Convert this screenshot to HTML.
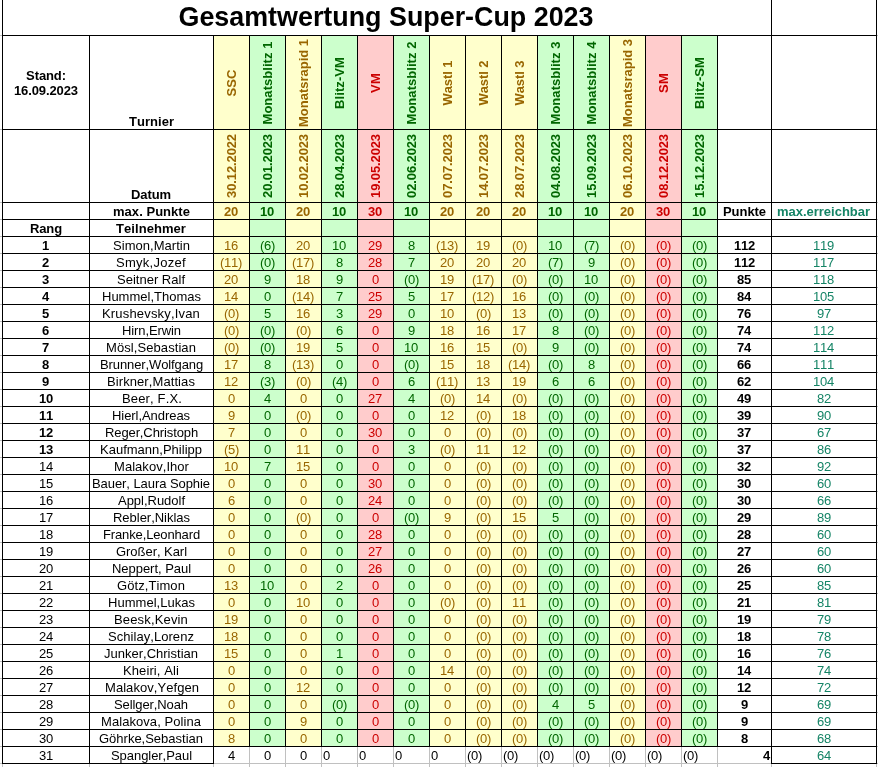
<!DOCTYPE html>
<html lang="de"><head><meta charset="utf-8"><title>Gesamtwertung Super-Cup 2023</title><style>
html,body{margin:0;padding:0;background:#fff}
body{width:878px;height:767px;position:relative;overflow:hidden;font-family:"Liberation Sans",sans-serif;font-size:13px;color:#000;font-kerning:none}
.r{position:absolute}
.t{position:absolute;text-align:left;white-space:nowrap}
.c{text-align:center}
.l{text-align:left}
.rt{text-align:right}
.b{font-weight:bold}
.v{position:absolute;white-space:nowrap;line-height:16px;height:16px;transform:translate(-50%,-50%) rotate(-90deg);transform-origin:50% 50%}
</style></head>
<body>
<div class="r" style="left:214px;top:36px;width:35px;height:710px;background:#ffffcc"></div>
<div class="r" style="left:250px;top:36px;width:35px;height:710px;background:#ccffcc"></div>
<div class="r" style="left:286px;top:36px;width:35px;height:710px;background:#ffffcc"></div>
<div class="r" style="left:322px;top:36px;width:35px;height:710px;background:#ccffcc"></div>
<div class="r" style="left:358px;top:36px;width:35px;height:710px;background:#ffcccc"></div>
<div class="r" style="left:394px;top:36px;width:35px;height:710px;background:#ccffcc"></div>
<div class="r" style="left:430px;top:36px;width:35px;height:710px;background:#ffffcc"></div>
<div class="r" style="left:466px;top:36px;width:35px;height:710px;background:#ffffcc"></div>
<div class="r" style="left:502px;top:36px;width:35px;height:710px;background:#ffffcc"></div>
<div class="r" style="left:538px;top:36px;width:35px;height:710px;background:#ccffcc"></div>
<div class="r" style="left:574px;top:36px;width:35px;height:710px;background:#ccffcc"></div>
<div class="r" style="left:610px;top:36px;width:35px;height:710px;background:#ffffcc"></div>
<div class="r" style="left:646px;top:36px;width:35px;height:710px;background:#ffcccc"></div>
<div class="r" style="left:682px;top:36px;width:35px;height:710px;background:#ccffcc"></div>
<div class="r" style="left:0px;top:35px;width:2px;height:1px;background:#c0c0c0"></div>
<div class="r" style="left:877px;top:35px;width:1px;height:1px;background:#c0c0c0"></div>
<div class="r" style="left:0px;top:129px;width:2px;height:1px;background:#c0c0c0"></div>
<div class="r" style="left:877px;top:129px;width:1px;height:1px;background:#c0c0c0"></div>
<div class="r" style="left:0px;top:202px;width:2px;height:1px;background:#c0c0c0"></div>
<div class="r" style="left:877px;top:202px;width:1px;height:1px;background:#c0c0c0"></div>
<div class="r" style="left:0px;top:219px;width:2px;height:1px;background:#c0c0c0"></div>
<div class="r" style="left:877px;top:219px;width:1px;height:1px;background:#c0c0c0"></div>
<div class="r" style="left:0px;top:236px;width:2px;height:1px;background:#c0c0c0"></div>
<div class="r" style="left:877px;top:236px;width:1px;height:1px;background:#c0c0c0"></div>
<div class="r" style="left:0px;top:253px;width:2px;height:1px;background:#c0c0c0"></div>
<div class="r" style="left:877px;top:253px;width:1px;height:1px;background:#c0c0c0"></div>
<div class="r" style="left:0px;top:270px;width:2px;height:1px;background:#c0c0c0"></div>
<div class="r" style="left:877px;top:270px;width:1px;height:1px;background:#c0c0c0"></div>
<div class="r" style="left:0px;top:287px;width:2px;height:1px;background:#c0c0c0"></div>
<div class="r" style="left:877px;top:287px;width:1px;height:1px;background:#c0c0c0"></div>
<div class="r" style="left:0px;top:304px;width:2px;height:1px;background:#c0c0c0"></div>
<div class="r" style="left:877px;top:304px;width:1px;height:1px;background:#c0c0c0"></div>
<div class="r" style="left:0px;top:321px;width:2px;height:1px;background:#c0c0c0"></div>
<div class="r" style="left:877px;top:321px;width:1px;height:1px;background:#c0c0c0"></div>
<div class="r" style="left:0px;top:338px;width:2px;height:1px;background:#c0c0c0"></div>
<div class="r" style="left:877px;top:338px;width:1px;height:1px;background:#c0c0c0"></div>
<div class="r" style="left:0px;top:355px;width:2px;height:1px;background:#c0c0c0"></div>
<div class="r" style="left:877px;top:355px;width:1px;height:1px;background:#c0c0c0"></div>
<div class="r" style="left:0px;top:372px;width:2px;height:1px;background:#c0c0c0"></div>
<div class="r" style="left:877px;top:372px;width:1px;height:1px;background:#c0c0c0"></div>
<div class="r" style="left:0px;top:389px;width:2px;height:1px;background:#c0c0c0"></div>
<div class="r" style="left:877px;top:389px;width:1px;height:1px;background:#c0c0c0"></div>
<div class="r" style="left:0px;top:406px;width:2px;height:1px;background:#c0c0c0"></div>
<div class="r" style="left:877px;top:406px;width:1px;height:1px;background:#c0c0c0"></div>
<div class="r" style="left:0px;top:423px;width:2px;height:1px;background:#c0c0c0"></div>
<div class="r" style="left:877px;top:423px;width:1px;height:1px;background:#c0c0c0"></div>
<div class="r" style="left:0px;top:440px;width:2px;height:1px;background:#c0c0c0"></div>
<div class="r" style="left:877px;top:440px;width:1px;height:1px;background:#c0c0c0"></div>
<div class="r" style="left:0px;top:457px;width:2px;height:1px;background:#c0c0c0"></div>
<div class="r" style="left:877px;top:457px;width:1px;height:1px;background:#c0c0c0"></div>
<div class="r" style="left:0px;top:474px;width:2px;height:1px;background:#c0c0c0"></div>
<div class="r" style="left:877px;top:474px;width:1px;height:1px;background:#c0c0c0"></div>
<div class="r" style="left:0px;top:491px;width:2px;height:1px;background:#c0c0c0"></div>
<div class="r" style="left:877px;top:491px;width:1px;height:1px;background:#c0c0c0"></div>
<div class="r" style="left:0px;top:508px;width:2px;height:1px;background:#c0c0c0"></div>
<div class="r" style="left:877px;top:508px;width:1px;height:1px;background:#c0c0c0"></div>
<div class="r" style="left:0px;top:525px;width:2px;height:1px;background:#c0c0c0"></div>
<div class="r" style="left:877px;top:525px;width:1px;height:1px;background:#c0c0c0"></div>
<div class="r" style="left:0px;top:542px;width:2px;height:1px;background:#c0c0c0"></div>
<div class="r" style="left:877px;top:542px;width:1px;height:1px;background:#c0c0c0"></div>
<div class="r" style="left:0px;top:559px;width:2px;height:1px;background:#c0c0c0"></div>
<div class="r" style="left:877px;top:559px;width:1px;height:1px;background:#c0c0c0"></div>
<div class="r" style="left:0px;top:576px;width:2px;height:1px;background:#c0c0c0"></div>
<div class="r" style="left:877px;top:576px;width:1px;height:1px;background:#c0c0c0"></div>
<div class="r" style="left:0px;top:593px;width:2px;height:1px;background:#c0c0c0"></div>
<div class="r" style="left:877px;top:593px;width:1px;height:1px;background:#c0c0c0"></div>
<div class="r" style="left:0px;top:610px;width:2px;height:1px;background:#c0c0c0"></div>
<div class="r" style="left:877px;top:610px;width:1px;height:1px;background:#c0c0c0"></div>
<div class="r" style="left:0px;top:627px;width:2px;height:1px;background:#c0c0c0"></div>
<div class="r" style="left:877px;top:627px;width:1px;height:1px;background:#c0c0c0"></div>
<div class="r" style="left:0px;top:644px;width:2px;height:1px;background:#c0c0c0"></div>
<div class="r" style="left:877px;top:644px;width:1px;height:1px;background:#c0c0c0"></div>
<div class="r" style="left:0px;top:661px;width:2px;height:1px;background:#c0c0c0"></div>
<div class="r" style="left:877px;top:661px;width:1px;height:1px;background:#c0c0c0"></div>
<div class="r" style="left:0px;top:678px;width:2px;height:1px;background:#c0c0c0"></div>
<div class="r" style="left:877px;top:678px;width:1px;height:1px;background:#c0c0c0"></div>
<div class="r" style="left:0px;top:695px;width:2px;height:1px;background:#c0c0c0"></div>
<div class="r" style="left:877px;top:695px;width:1px;height:1px;background:#c0c0c0"></div>
<div class="r" style="left:0px;top:712px;width:2px;height:1px;background:#c0c0c0"></div>
<div class="r" style="left:877px;top:712px;width:1px;height:1px;background:#c0c0c0"></div>
<div class="r" style="left:0px;top:729px;width:2px;height:1px;background:#c0c0c0"></div>
<div class="r" style="left:877px;top:729px;width:1px;height:1px;background:#c0c0c0"></div>
<div class="r" style="left:0px;top:746px;width:2px;height:1px;background:#c0c0c0"></div>
<div class="r" style="left:877px;top:746px;width:1px;height:1px;background:#c0c0c0"></div>
<div class="r" style="left:0px;top:763px;width:2px;height:1px;background:#c0c0c0"></div>
<div class="r" style="left:877px;top:763px;width:1px;height:1px;background:#c0c0c0"></div>
<div class="r" style="left:249px;top:747px;width:1px;height:20px;background:#c0c0c0"></div>
<div class="r" style="left:285px;top:747px;width:1px;height:20px;background:#c0c0c0"></div>
<div class="r" style="left:321px;top:747px;width:1px;height:20px;background:#c0c0c0"></div>
<div class="r" style="left:357px;top:747px;width:1px;height:20px;background:#c0c0c0"></div>
<div class="r" style="left:393px;top:747px;width:1px;height:20px;background:#c0c0c0"></div>
<div class="r" style="left:429px;top:747px;width:1px;height:20px;background:#c0c0c0"></div>
<div class="r" style="left:465px;top:747px;width:1px;height:20px;background:#c0c0c0"></div>
<div class="r" style="left:501px;top:747px;width:1px;height:20px;background:#c0c0c0"></div>
<div class="r" style="left:537px;top:747px;width:1px;height:20px;background:#c0c0c0"></div>
<div class="r" style="left:573px;top:747px;width:1px;height:20px;background:#c0c0c0"></div>
<div class="r" style="left:609px;top:747px;width:1px;height:20px;background:#c0c0c0"></div>
<div class="r" style="left:645px;top:747px;width:1px;height:20px;background:#c0c0c0"></div>
<div class="r" style="left:681px;top:747px;width:1px;height:20px;background:#c0c0c0"></div>
<div class="r" style="left:717px;top:747px;width:1px;height:20px;background:#c0c0c0"></div>
<div class="r" style="left:214px;top:763px;width:557px;height:1px;background:#c0c0c0"></div>
<div class="r" style="left:2px;top:764px;width:1px;height:3px;background:#c0c0c0"></div>
<div class="r" style="left:89px;top:764px;width:1px;height:3px;background:#c0c0c0"></div>
<div class="r" style="left:213px;top:764px;width:1px;height:3px;background:#c0c0c0"></div>
<div class="r" style="left:771px;top:764px;width:1px;height:3px;background:#c0c0c0"></div>
<div class="r" style="left:876px;top:764px;width:1px;height:3px;background:#c0c0c0"></div>
<div class="r" style="left:2px;top:0px;width:1px;height:764px;background:#000"></div>
<div class="r" style="left:89px;top:35px;width:1px;height:729px;background:#000"></div>
<div class="r" style="left:213px;top:35px;width:1px;height:729px;background:#000"></div>
<div class="r" style="left:249px;top:35px;width:1px;height:712px;background:#000"></div>
<div class="r" style="left:285px;top:35px;width:1px;height:712px;background:#000"></div>
<div class="r" style="left:321px;top:35px;width:1px;height:712px;background:#000"></div>
<div class="r" style="left:357px;top:35px;width:1px;height:712px;background:#000"></div>
<div class="r" style="left:393px;top:35px;width:1px;height:712px;background:#000"></div>
<div class="r" style="left:429px;top:35px;width:1px;height:712px;background:#000"></div>
<div class="r" style="left:465px;top:35px;width:1px;height:712px;background:#000"></div>
<div class="r" style="left:501px;top:35px;width:1px;height:712px;background:#000"></div>
<div class="r" style="left:537px;top:35px;width:1px;height:712px;background:#000"></div>
<div class="r" style="left:573px;top:35px;width:1px;height:712px;background:#000"></div>
<div class="r" style="left:609px;top:35px;width:1px;height:712px;background:#000"></div>
<div class="r" style="left:645px;top:35px;width:1px;height:712px;background:#000"></div>
<div class="r" style="left:681px;top:35px;width:1px;height:712px;background:#000"></div>
<div class="r" style="left:717px;top:35px;width:1px;height:712px;background:#000"></div>
<div class="r" style="left:771px;top:0px;width:1px;height:764px;background:#000"></div>
<div class="r" style="left:876px;top:0px;width:1px;height:764px;background:#000"></div>
<div class="r" style="left:2px;top:35px;width:875px;height:1px;background:#000"></div>
<div class="r" style="left:2px;top:129px;width:875px;height:1px;background:#000"></div>
<div class="r" style="left:2px;top:202px;width:875px;height:1px;background:#000"></div>
<div class="r" style="left:2px;top:219px;width:875px;height:1px;background:#000"></div>
<div class="r" style="left:2px;top:236px;width:875px;height:1px;background:#000"></div>
<div class="r" style="left:2px;top:253px;width:875px;height:1px;background:#000"></div>
<div class="r" style="left:2px;top:270px;width:875px;height:1px;background:#000"></div>
<div class="r" style="left:2px;top:287px;width:875px;height:1px;background:#000"></div>
<div class="r" style="left:2px;top:304px;width:875px;height:1px;background:#000"></div>
<div class="r" style="left:2px;top:321px;width:875px;height:1px;background:#000"></div>
<div class="r" style="left:2px;top:338px;width:875px;height:1px;background:#000"></div>
<div class="r" style="left:2px;top:355px;width:875px;height:1px;background:#000"></div>
<div class="r" style="left:2px;top:372px;width:875px;height:1px;background:#000"></div>
<div class="r" style="left:2px;top:389px;width:875px;height:1px;background:#000"></div>
<div class="r" style="left:2px;top:406px;width:875px;height:1px;background:#000"></div>
<div class="r" style="left:2px;top:423px;width:875px;height:1px;background:#000"></div>
<div class="r" style="left:2px;top:440px;width:875px;height:1px;background:#000"></div>
<div class="r" style="left:2px;top:457px;width:875px;height:1px;background:#000"></div>
<div class="r" style="left:2px;top:474px;width:875px;height:1px;background:#000"></div>
<div class="r" style="left:2px;top:491px;width:875px;height:1px;background:#000"></div>
<div class="r" style="left:2px;top:508px;width:875px;height:1px;background:#000"></div>
<div class="r" style="left:2px;top:525px;width:875px;height:1px;background:#000"></div>
<div class="r" style="left:2px;top:542px;width:875px;height:1px;background:#000"></div>
<div class="r" style="left:2px;top:559px;width:875px;height:1px;background:#000"></div>
<div class="r" style="left:2px;top:576px;width:875px;height:1px;background:#000"></div>
<div class="r" style="left:2px;top:593px;width:875px;height:1px;background:#000"></div>
<div class="r" style="left:2px;top:610px;width:875px;height:1px;background:#000"></div>
<div class="r" style="left:2px;top:627px;width:875px;height:1px;background:#000"></div>
<div class="r" style="left:2px;top:644px;width:875px;height:1px;background:#000"></div>
<div class="r" style="left:2px;top:661px;width:875px;height:1px;background:#000"></div>
<div class="r" style="left:2px;top:678px;width:875px;height:1px;background:#000"></div>
<div class="r" style="left:2px;top:695px;width:875px;height:1px;background:#000"></div>
<div class="r" style="left:2px;top:712px;width:875px;height:1px;background:#000"></div>
<div class="r" style="left:2px;top:729px;width:875px;height:1px;background:#000"></div>
<div class="r" style="left:2px;top:746px;width:875px;height:1px;background:#000"></div>
<div class="r" style="left:2px;top:763px;width:212px;height:1px;background:#000"></div>
<div class="r" style="left:771px;top:763px;width:106px;height:1px;background:#000"></div>
<div class="t c b title" style="left:1px;top:0px;width:770px;height:35px;line-height:35px;font-size:26.87px;top:0px;">Gesamtwertung Super-Cup 2023</div>
<div class="t c b" style="left:2.5px;top:68px;width:87px;height:32px;line-height:15px;letter-spacing:-0.108px">Stand:<br>16.09.2023</div>
<div class="t b" style="left:129px;top:113px;height:17px;line-height:17px;letter-spacing:0.029px;">Turnier</div>
<div class="t b" style="left:131px;top:186px;height:17px;line-height:17px;letter-spacing:-0.091px;">Datum</div>
<div class="t b" style="left:113px;top:203px;height:17px;line-height:17px;letter-spacing:0.037px;">max. Punkte</div>
<div class="t b" style="left:30px;top:220px;height:17px;line-height:17px;letter-spacing:-0.125px;">Rang</div>
<div class="t b" style="left:116px;top:220px;height:17px;line-height:17px;letter-spacing:0.064px;">Teilnehmer</div>
<div class="t b" style="left:723px;top:203px;height:17px;line-height:17px;letter-spacing:-0.057px;">Punkte</div>
<div class="t b" style="left:777px;top:203px;height:17px;line-height:17px;color:#158466;letter-spacing:-0.017px;">max.erreichbar</div>
<div class="v b" style="left:231.5px;top:82.5px;color:#996600;letter-spacing:0.089px">SSC</div>
<div class="v b" style="left:231.5px;top:166.0px;color:#996600;letter-spacing:-0.108px">30.12.2022</div>
<div class="t b" style="left:224px;top:203px;height:17px;line-height:17px;color:#996600;letter-spacing:-0.234px;">20</div>
<div class="v b" style="left:267.5px;top:82.5px;color:#006600;letter-spacing:0.05px">Monatsblitz 1</div>
<div class="v b" style="left:267.5px;top:166.0px;color:#006600;letter-spacing:-0.108px">20.01.2023</div>
<div class="t b" style="left:260px;top:203px;height:17px;line-height:17px;color:#006600;letter-spacing:-0.234px;">10</div>
<div class="v b" style="left:303.5px;top:82.5px;color:#996600;letter-spacing:-0.01px">Monatsrapid 1</div>
<div class="v b" style="left:303.5px;top:166.0px;color:#996600;letter-spacing:-0.108px">10.02.2023</div>
<div class="t b" style="left:296px;top:203px;height:17px;line-height:17px;color:#996600;letter-spacing:-0.234px;">20</div>
<div class="v b" style="left:339.5px;top:82.5px;color:#006600;letter-spacing:0.09px">Blitz-VM</div>
<div class="v b" style="left:339.5px;top:166.0px;color:#006600;letter-spacing:-0.108px">28.04.2023</div>
<div class="t b" style="left:332px;top:203px;height:17px;line-height:17px;color:#006600;letter-spacing:-0.234px;">10</div>
<div class="v b" style="left:375.5px;top:82.5px;color:#cc0000;letter-spacing:0.25px">VM</div>
<div class="v b" style="left:375.5px;top:166.0px;color:#cc0000;letter-spacing:-0.108px">19.05.2023</div>
<div class="t b" style="left:368px;top:203px;height:17px;line-height:17px;color:#cc0000;letter-spacing:-0.234px;">30</div>
<div class="v b" style="left:411.5px;top:82.5px;color:#006600;letter-spacing:0.05px">Monatsblitz 2</div>
<div class="v b" style="left:411.5px;top:166.0px;color:#006600;letter-spacing:-0.108px">02.06.2023</div>
<div class="t b" style="left:404px;top:203px;height:17px;line-height:17px;color:#006600;letter-spacing:-0.234px;">10</div>
<div class="v b" style="left:447.5px;top:82.5px;color:#996600;letter-spacing:-0.074px">Wastl 1</div>
<div class="v b" style="left:447.5px;top:166.0px;color:#996600;letter-spacing:-0.108px">07.07.2023</div>
<div class="t b" style="left:440px;top:203px;height:17px;line-height:17px;color:#996600;letter-spacing:-0.234px;">20</div>
<div class="v b" style="left:483.5px;top:82.5px;color:#996600;letter-spacing:-0.074px">Wastl 2</div>
<div class="v b" style="left:483.5px;top:166.0px;color:#996600;letter-spacing:-0.108px">14.07.2023</div>
<div class="t b" style="left:476px;top:203px;height:17px;line-height:17px;color:#996600;letter-spacing:-0.234px;">20</div>
<div class="v b" style="left:519.5px;top:82.5px;color:#996600;letter-spacing:-0.074px">Wastl 3</div>
<div class="v b" style="left:519.5px;top:166.0px;color:#996600;letter-spacing:-0.108px">28.07.2023</div>
<div class="t b" style="left:512px;top:203px;height:17px;line-height:17px;color:#996600;letter-spacing:-0.234px;">20</div>
<div class="v b" style="left:555.5px;top:82.5px;color:#006600;letter-spacing:0.05px">Monatsblitz 3</div>
<div class="v b" style="left:555.5px;top:166.0px;color:#006600;letter-spacing:-0.108px">04.08.2023</div>
<div class="t b" style="left:548px;top:203px;height:17px;line-height:17px;color:#006600;letter-spacing:-0.234px;">10</div>
<div class="v b" style="left:591.5px;top:82.5px;color:#006600;letter-spacing:0.05px">Monatsblitz 4</div>
<div class="v b" style="left:591.5px;top:166.0px;color:#006600;letter-spacing:-0.108px">15.09.2023</div>
<div class="t b" style="left:584px;top:203px;height:17px;line-height:17px;color:#006600;letter-spacing:-0.234px;">10</div>
<div class="v b" style="left:627.5px;top:82.5px;color:#996600;letter-spacing:-0.01px">Monatsrapid 3</div>
<div class="v b" style="left:627.5px;top:166.0px;color:#996600;letter-spacing:-0.108px">06.10.2023</div>
<div class="t b" style="left:620px;top:203px;height:17px;line-height:17px;color:#996600;letter-spacing:-0.234px;">20</div>
<div class="v b" style="left:663.5px;top:82.5px;color:#cc0000;letter-spacing:0.25px">SM</div>
<div class="v b" style="left:663.5px;top:166.0px;color:#cc0000;letter-spacing:-0.108px">08.12.2023</div>
<div class="t b" style="left:656px;top:203px;height:17px;line-height:17px;color:#cc0000;letter-spacing:-0.234px;">30</div>
<div class="v b" style="left:699.5px;top:82.5px;color:#006600;letter-spacing:0.09px">Blitz-SM</div>
<div class="v b" style="left:699.5px;top:166.0px;color:#006600;letter-spacing:-0.108px">15.12.2023</div>
<div class="t b" style="left:692px;top:203px;height:17px;line-height:17px;color:#006600;letter-spacing:-0.234px;">10</div>
<div class="t b" style="left:42px;top:237px;height:17px;line-height:17px;letter-spacing:-0.234px;">1</div>
<div class="t " style="left:113px;top:237px;height:17px;line-height:17px;letter-spacing:0.035px;">Simon,Martin</div>
<div class="t " style="left:224px;top:237px;height:17px;line-height:17px;color:#996600;letter-spacing:-0.234px;">16</div>
<div class="t " style="left:260px;top:237px;height:17px;line-height:17px;color:#006600;letter-spacing:-0.297px;">(6)</div>
<div class="t " style="left:296px;top:237px;height:17px;line-height:17px;color:#996600;letter-spacing:-0.234px;">20</div>
<div class="t " style="left:332px;top:237px;height:17px;line-height:17px;color:#006600;letter-spacing:-0.234px;">10</div>
<div class="t " style="left:368px;top:237px;height:17px;line-height:17px;color:#cc0000;letter-spacing:-0.234px;">29</div>
<div class="t " style="left:408px;top:237px;height:17px;line-height:17px;color:#006600;letter-spacing:-0.234px;">8</div>
<div class="t " style="left:436px;top:237px;height:17px;line-height:17px;color:#996600;letter-spacing:-0.281px;">(13)</div>
<div class="t " style="left:476px;top:237px;height:17px;line-height:17px;color:#996600;letter-spacing:-0.234px;">19</div>
<div class="t " style="left:512px;top:237px;height:17px;line-height:17px;color:#996600;letter-spacing:-0.297px;">(0)</div>
<div class="t " style="left:548px;top:237px;height:17px;line-height:17px;color:#006600;letter-spacing:-0.234px;">10</div>
<div class="t " style="left:584px;top:237px;height:17px;line-height:17px;color:#006600;letter-spacing:-0.297px;">(7)</div>
<div class="t " style="left:620px;top:237px;height:17px;line-height:17px;color:#996600;letter-spacing:-0.297px;">(0)</div>
<div class="t " style="left:656px;top:237px;height:17px;line-height:17px;color:#cc0000;letter-spacing:-0.297px;">(0)</div>
<div class="t " style="left:692px;top:237px;height:17px;line-height:17px;color:#006600;letter-spacing:-0.297px;">(0)</div>
<div class="t b" style="left:734px;top:237px;height:17px;line-height:17px;letter-spacing:-0.234px;">112</div>
<div class="t " style="left:813px;top:237px;height:17px;line-height:17px;color:#158466;letter-spacing:-0.234px;">119</div>
<div class="t b" style="left:42px;top:254px;height:17px;line-height:17px;letter-spacing:-0.234px;">2</div>
<div class="t " style="left:116px;top:254px;height:17px;line-height:17px;letter-spacing:0.281px;">Smyk,Jozef</div>
<div class="t " style="left:220px;top:254px;height:17px;line-height:17px;color:#996600;letter-spacing:-0.281px;">(11)</div>
<div class="t " style="left:260px;top:254px;height:17px;line-height:17px;color:#006600;letter-spacing:-0.297px;">(0)</div>
<div class="t " style="left:292px;top:254px;height:17px;line-height:17px;color:#996600;letter-spacing:-0.281px;">(17)</div>
<div class="t " style="left:336px;top:254px;height:17px;line-height:17px;color:#006600;letter-spacing:-0.234px;">8</div>
<div class="t " style="left:368px;top:254px;height:17px;line-height:17px;color:#cc0000;letter-spacing:-0.234px;">28</div>
<div class="t " style="left:408px;top:254px;height:17px;line-height:17px;color:#006600;letter-spacing:-0.234px;">7</div>
<div class="t " style="left:440px;top:254px;height:17px;line-height:17px;color:#996600;letter-spacing:-0.234px;">20</div>
<div class="t " style="left:476px;top:254px;height:17px;line-height:17px;color:#996600;letter-spacing:-0.234px;">20</div>
<div class="t " style="left:512px;top:254px;height:17px;line-height:17px;color:#996600;letter-spacing:-0.234px;">20</div>
<div class="t " style="left:548px;top:254px;height:17px;line-height:17px;color:#006600;letter-spacing:-0.297px;">(7)</div>
<div class="t " style="left:588px;top:254px;height:17px;line-height:17px;color:#006600;letter-spacing:-0.234px;">9</div>
<div class="t " style="left:620px;top:254px;height:17px;line-height:17px;color:#996600;letter-spacing:-0.297px;">(0)</div>
<div class="t " style="left:656px;top:254px;height:17px;line-height:17px;color:#cc0000;letter-spacing:-0.297px;">(0)</div>
<div class="t " style="left:692px;top:254px;height:17px;line-height:17px;color:#006600;letter-spacing:-0.297px;">(0)</div>
<div class="t b" style="left:734px;top:254px;height:17px;line-height:17px;letter-spacing:-0.234px;">112</div>
<div class="t " style="left:813px;top:254px;height:17px;line-height:17px;color:#158466;letter-spacing:-0.234px;">117</div>
<div class="t b" style="left:42px;top:271px;height:17px;line-height:17px;letter-spacing:-0.234px;">3</div>
<div class="t " style="left:117px;top:271px;height:17px;line-height:17px;letter-spacing:0.007px;">Seitner Ralf</div>
<div class="t " style="left:224px;top:271px;height:17px;line-height:17px;color:#996600;letter-spacing:-0.234px;">20</div>
<div class="t " style="left:264px;top:271px;height:17px;line-height:17px;color:#006600;letter-spacing:-0.234px;">9</div>
<div class="t " style="left:296px;top:271px;height:17px;line-height:17px;color:#996600;letter-spacing:-0.234px;">18</div>
<div class="t " style="left:336px;top:271px;height:17px;line-height:17px;color:#006600;letter-spacing:-0.234px;">9</div>
<div class="t " style="left:372px;top:271px;height:17px;line-height:17px;color:#cc0000;letter-spacing:-0.234px;">0</div>
<div class="t " style="left:404px;top:271px;height:17px;line-height:17px;color:#006600;letter-spacing:-0.297px;">(0)</div>
<div class="t " style="left:440px;top:271px;height:17px;line-height:17px;color:#996600;letter-spacing:-0.234px;">19</div>
<div class="t " style="left:472px;top:271px;height:17px;line-height:17px;color:#996600;letter-spacing:-0.281px;">(17)</div>
<div class="t " style="left:512px;top:271px;height:17px;line-height:17px;color:#996600;letter-spacing:-0.297px;">(0)</div>
<div class="t " style="left:548px;top:271px;height:17px;line-height:17px;color:#006600;letter-spacing:-0.297px;">(0)</div>
<div class="t " style="left:584px;top:271px;height:17px;line-height:17px;color:#006600;letter-spacing:-0.234px;">10</div>
<div class="t " style="left:620px;top:271px;height:17px;line-height:17px;color:#996600;letter-spacing:-0.297px;">(0)</div>
<div class="t " style="left:656px;top:271px;height:17px;line-height:17px;color:#cc0000;letter-spacing:-0.297px;">(0)</div>
<div class="t " style="left:692px;top:271px;height:17px;line-height:17px;color:#006600;letter-spacing:-0.297px;">(0)</div>
<div class="t b" style="left:737px;top:271px;height:17px;line-height:17px;letter-spacing:-0.234px;">85</div>
<div class="t " style="left:813px;top:271px;height:17px;line-height:17px;color:#158466;letter-spacing:-0.234px;">118</div>
<div class="t b" style="left:42px;top:288px;height:17px;line-height:17px;letter-spacing:-0.234px;">4</div>
<div class="t " style="left:102px;top:288px;height:17px;line-height:17px;letter-spacing:0.002px;">Hummel,Thomas</div>
<div class="t " style="left:224px;top:288px;height:17px;line-height:17px;color:#996600;letter-spacing:-0.234px;">14</div>
<div class="t " style="left:264px;top:288px;height:17px;line-height:17px;color:#006600;letter-spacing:-0.234px;">0</div>
<div class="t " style="left:292px;top:288px;height:17px;line-height:17px;color:#996600;letter-spacing:-0.281px;">(14)</div>
<div class="t " style="left:336px;top:288px;height:17px;line-height:17px;color:#006600;letter-spacing:-0.234px;">7</div>
<div class="t " style="left:368px;top:288px;height:17px;line-height:17px;color:#cc0000;letter-spacing:-0.234px;">25</div>
<div class="t " style="left:408px;top:288px;height:17px;line-height:17px;color:#006600;letter-spacing:-0.234px;">5</div>
<div class="t " style="left:440px;top:288px;height:17px;line-height:17px;color:#996600;letter-spacing:-0.234px;">17</div>
<div class="t " style="left:472px;top:288px;height:17px;line-height:17px;color:#996600;letter-spacing:-0.281px;">(12)</div>
<div class="t " style="left:512px;top:288px;height:17px;line-height:17px;color:#996600;letter-spacing:-0.234px;">16</div>
<div class="t " style="left:548px;top:288px;height:17px;line-height:17px;color:#006600;letter-spacing:-0.297px;">(0)</div>
<div class="t " style="left:584px;top:288px;height:17px;line-height:17px;color:#006600;letter-spacing:-0.297px;">(0)</div>
<div class="t " style="left:620px;top:288px;height:17px;line-height:17px;color:#996600;letter-spacing:-0.297px;">(0)</div>
<div class="t " style="left:656px;top:288px;height:17px;line-height:17px;color:#cc0000;letter-spacing:-0.297px;">(0)</div>
<div class="t " style="left:692px;top:288px;height:17px;line-height:17px;color:#006600;letter-spacing:-0.297px;">(0)</div>
<div class="t b" style="left:737px;top:288px;height:17px;line-height:17px;letter-spacing:-0.234px;">84</div>
<div class="t " style="left:813px;top:288px;height:17px;line-height:17px;color:#158466;letter-spacing:-0.234px;">105</div>
<div class="t b" style="left:42px;top:305px;height:17px;line-height:17px;letter-spacing:-0.234px;">5</div>
<div class="t " style="left:102px;top:305px;height:17px;line-height:17px;letter-spacing:0.175px;">Krushevsky,Ivan</div>
<div class="t " style="left:224px;top:305px;height:17px;line-height:17px;color:#996600;letter-spacing:-0.297px;">(0)</div>
<div class="t " style="left:264px;top:305px;height:17px;line-height:17px;color:#006600;letter-spacing:-0.234px;">5</div>
<div class="t " style="left:296px;top:305px;height:17px;line-height:17px;color:#996600;letter-spacing:-0.234px;">16</div>
<div class="t " style="left:336px;top:305px;height:17px;line-height:17px;color:#006600;letter-spacing:-0.234px;">3</div>
<div class="t " style="left:368px;top:305px;height:17px;line-height:17px;color:#cc0000;letter-spacing:-0.234px;">29</div>
<div class="t " style="left:408px;top:305px;height:17px;line-height:17px;color:#006600;letter-spacing:-0.234px;">0</div>
<div class="t " style="left:440px;top:305px;height:17px;line-height:17px;color:#996600;letter-spacing:-0.234px;">10</div>
<div class="t " style="left:476px;top:305px;height:17px;line-height:17px;color:#996600;letter-spacing:-0.297px;">(0)</div>
<div class="t " style="left:512px;top:305px;height:17px;line-height:17px;color:#996600;letter-spacing:-0.234px;">13</div>
<div class="t " style="left:548px;top:305px;height:17px;line-height:17px;color:#006600;letter-spacing:-0.297px;">(0)</div>
<div class="t " style="left:584px;top:305px;height:17px;line-height:17px;color:#006600;letter-spacing:-0.297px;">(0)</div>
<div class="t " style="left:620px;top:305px;height:17px;line-height:17px;color:#996600;letter-spacing:-0.297px;">(0)</div>
<div class="t " style="left:656px;top:305px;height:17px;line-height:17px;color:#cc0000;letter-spacing:-0.297px;">(0)</div>
<div class="t " style="left:692px;top:305px;height:17px;line-height:17px;color:#006600;letter-spacing:-0.297px;">(0)</div>
<div class="t b" style="left:737px;top:305px;height:17px;line-height:17px;letter-spacing:-0.234px;">76</div>
<div class="t " style="left:817px;top:305px;height:17px;line-height:17px;color:#158466;letter-spacing:-0.234px;">97</div>
<div class="t b" style="left:42px;top:322px;height:17px;line-height:17px;letter-spacing:-0.234px;">6</div>
<div class="t " style="left:122px;top:322px;height:17px;line-height:17px;letter-spacing:-0.097px;">Hirn,Erwin</div>
<div class="t " style="left:224px;top:322px;height:17px;line-height:17px;color:#996600;letter-spacing:-0.297px;">(0)</div>
<div class="t " style="left:260px;top:322px;height:17px;line-height:17px;color:#006600;letter-spacing:-0.297px;">(0)</div>
<div class="t " style="left:296px;top:322px;height:17px;line-height:17px;color:#996600;letter-spacing:-0.297px;">(0)</div>
<div class="t " style="left:336px;top:322px;height:17px;line-height:17px;color:#006600;letter-spacing:-0.234px;">6</div>
<div class="t " style="left:372px;top:322px;height:17px;line-height:17px;color:#cc0000;letter-spacing:-0.234px;">0</div>
<div class="t " style="left:408px;top:322px;height:17px;line-height:17px;color:#006600;letter-spacing:-0.234px;">9</div>
<div class="t " style="left:440px;top:322px;height:17px;line-height:17px;color:#996600;letter-spacing:-0.234px;">18</div>
<div class="t " style="left:476px;top:322px;height:17px;line-height:17px;color:#996600;letter-spacing:-0.234px;">16</div>
<div class="t " style="left:512px;top:322px;height:17px;line-height:17px;color:#996600;letter-spacing:-0.234px;">17</div>
<div class="t " style="left:552px;top:322px;height:17px;line-height:17px;color:#006600;letter-spacing:-0.234px;">8</div>
<div class="t " style="left:584px;top:322px;height:17px;line-height:17px;color:#006600;letter-spacing:-0.297px;">(0)</div>
<div class="t " style="left:620px;top:322px;height:17px;line-height:17px;color:#996600;letter-spacing:-0.297px;">(0)</div>
<div class="t " style="left:656px;top:322px;height:17px;line-height:17px;color:#cc0000;letter-spacing:-0.297px;">(0)</div>
<div class="t " style="left:692px;top:322px;height:17px;line-height:17px;color:#006600;letter-spacing:-0.297px;">(0)</div>
<div class="t b" style="left:737px;top:322px;height:17px;line-height:17px;letter-spacing:-0.234px;">74</div>
<div class="t " style="left:813px;top:322px;height:17px;line-height:17px;color:#158466;letter-spacing:-0.234px;">112</div>
<div class="t b" style="left:42px;top:339px;height:17px;line-height:17px;letter-spacing:-0.234px;">7</div>
<div class="t " style="left:106px;top:339px;height:17px;line-height:17px;letter-spacing:0.079px;">Mösl,Sebastian</div>
<div class="t " style="left:224px;top:339px;height:17px;line-height:17px;color:#996600;letter-spacing:-0.297px;">(0)</div>
<div class="t " style="left:260px;top:339px;height:17px;line-height:17px;color:#006600;letter-spacing:-0.297px;">(0)</div>
<div class="t " style="left:296px;top:339px;height:17px;line-height:17px;color:#996600;letter-spacing:-0.234px;">19</div>
<div class="t " style="left:336px;top:339px;height:17px;line-height:17px;color:#006600;letter-spacing:-0.234px;">5</div>
<div class="t " style="left:372px;top:339px;height:17px;line-height:17px;color:#cc0000;letter-spacing:-0.234px;">0</div>
<div class="t " style="left:404px;top:339px;height:17px;line-height:17px;color:#006600;letter-spacing:-0.234px;">10</div>
<div class="t " style="left:440px;top:339px;height:17px;line-height:17px;color:#996600;letter-spacing:-0.234px;">16</div>
<div class="t " style="left:476px;top:339px;height:17px;line-height:17px;color:#996600;letter-spacing:-0.234px;">15</div>
<div class="t " style="left:512px;top:339px;height:17px;line-height:17px;color:#996600;letter-spacing:-0.297px;">(0)</div>
<div class="t " style="left:552px;top:339px;height:17px;line-height:17px;color:#006600;letter-spacing:-0.234px;">9</div>
<div class="t " style="left:584px;top:339px;height:17px;line-height:17px;color:#006600;letter-spacing:-0.297px;">(0)</div>
<div class="t " style="left:620px;top:339px;height:17px;line-height:17px;color:#996600;letter-spacing:-0.297px;">(0)</div>
<div class="t " style="left:656px;top:339px;height:17px;line-height:17px;color:#cc0000;letter-spacing:-0.297px;">(0)</div>
<div class="t " style="left:692px;top:339px;height:17px;line-height:17px;color:#006600;letter-spacing:-0.297px;">(0)</div>
<div class="t b" style="left:737px;top:339px;height:17px;line-height:17px;letter-spacing:-0.234px;">74</div>
<div class="t " style="left:813px;top:339px;height:17px;line-height:17px;color:#158466;letter-spacing:-0.234px;">114</div>
<div class="t b" style="left:42px;top:356px;height:17px;line-height:17px;letter-spacing:-0.234px;">8</div>
<div class="t " style="left:100px;top:356px;height:17px;line-height:17px;letter-spacing:-0.111px;">Brunner,Wolfgang</div>
<div class="t " style="left:224px;top:356px;height:17px;line-height:17px;color:#996600;letter-spacing:-0.234px;">17</div>
<div class="t " style="left:264px;top:356px;height:17px;line-height:17px;color:#006600;letter-spacing:-0.234px;">8</div>
<div class="t " style="left:292px;top:356px;height:17px;line-height:17px;color:#996600;letter-spacing:-0.281px;">(13)</div>
<div class="t " style="left:336px;top:356px;height:17px;line-height:17px;color:#006600;letter-spacing:-0.234px;">0</div>
<div class="t " style="left:372px;top:356px;height:17px;line-height:17px;color:#cc0000;letter-spacing:-0.234px;">0</div>
<div class="t " style="left:404px;top:356px;height:17px;line-height:17px;color:#006600;letter-spacing:-0.297px;">(0)</div>
<div class="t " style="left:440px;top:356px;height:17px;line-height:17px;color:#996600;letter-spacing:-0.234px;">15</div>
<div class="t " style="left:476px;top:356px;height:17px;line-height:17px;color:#996600;letter-spacing:-0.234px;">18</div>
<div class="t " style="left:508px;top:356px;height:17px;line-height:17px;color:#996600;letter-spacing:-0.281px;">(14)</div>
<div class="t " style="left:548px;top:356px;height:17px;line-height:17px;color:#006600;letter-spacing:-0.297px;">(0)</div>
<div class="t " style="left:588px;top:356px;height:17px;line-height:17px;color:#006600;letter-spacing:-0.234px;">8</div>
<div class="t " style="left:620px;top:356px;height:17px;line-height:17px;color:#996600;letter-spacing:-0.297px;">(0)</div>
<div class="t " style="left:656px;top:356px;height:17px;line-height:17px;color:#cc0000;letter-spacing:-0.297px;">(0)</div>
<div class="t " style="left:692px;top:356px;height:17px;line-height:17px;color:#006600;letter-spacing:-0.297px;">(0)</div>
<div class="t b" style="left:737px;top:356px;height:17px;line-height:17px;letter-spacing:-0.234px;">66</div>
<div class="t " style="left:813px;top:356px;height:17px;line-height:17px;color:#158466;letter-spacing:-0.234px;">111</div>
<div class="t b" style="left:42px;top:373px;height:17px;line-height:17px;letter-spacing:-0.234px;">9</div>
<div class="t " style="left:107px;top:373px;height:17px;line-height:17px;letter-spacing:0.086px;">Birkner,Mattias</div>
<div class="t " style="left:224px;top:373px;height:17px;line-height:17px;color:#996600;letter-spacing:-0.234px;">12</div>
<div class="t " style="left:260px;top:373px;height:17px;line-height:17px;color:#006600;letter-spacing:-0.297px;">(3)</div>
<div class="t " style="left:296px;top:373px;height:17px;line-height:17px;color:#996600;letter-spacing:-0.297px;">(0)</div>
<div class="t " style="left:332px;top:373px;height:17px;line-height:17px;color:#006600;letter-spacing:-0.297px;">(4)</div>
<div class="t " style="left:372px;top:373px;height:17px;line-height:17px;color:#cc0000;letter-spacing:-0.234px;">0</div>
<div class="t " style="left:408px;top:373px;height:17px;line-height:17px;color:#006600;letter-spacing:-0.234px;">6</div>
<div class="t " style="left:436px;top:373px;height:17px;line-height:17px;color:#996600;letter-spacing:-0.281px;">(11)</div>
<div class="t " style="left:476px;top:373px;height:17px;line-height:17px;color:#996600;letter-spacing:-0.234px;">13</div>
<div class="t " style="left:512px;top:373px;height:17px;line-height:17px;color:#996600;letter-spacing:-0.234px;">19</div>
<div class="t " style="left:552px;top:373px;height:17px;line-height:17px;color:#006600;letter-spacing:-0.234px;">6</div>
<div class="t " style="left:588px;top:373px;height:17px;line-height:17px;color:#006600;letter-spacing:-0.234px;">6</div>
<div class="t " style="left:620px;top:373px;height:17px;line-height:17px;color:#996600;letter-spacing:-0.297px;">(0)</div>
<div class="t " style="left:656px;top:373px;height:17px;line-height:17px;color:#cc0000;letter-spacing:-0.297px;">(0)</div>
<div class="t " style="left:692px;top:373px;height:17px;line-height:17px;color:#006600;letter-spacing:-0.297px;">(0)</div>
<div class="t b" style="left:737px;top:373px;height:17px;line-height:17px;letter-spacing:-0.234px;">62</div>
<div class="t " style="left:813px;top:373px;height:17px;line-height:17px;color:#158466;letter-spacing:-0.234px;">104</div>
<div class="t b" style="left:39px;top:390px;height:17px;line-height:17px;letter-spacing:-0.234px;">10</div>
<div class="t " style="left:122px;top:390px;height:17px;line-height:17px;letter-spacing:0.145px;">Beer, F.X.</div>
<div class="t " style="left:228px;top:390px;height:17px;line-height:17px;color:#996600;letter-spacing:-0.234px;">0</div>
<div class="t " style="left:264px;top:390px;height:17px;line-height:17px;color:#006600;letter-spacing:-0.234px;">4</div>
<div class="t " style="left:300px;top:390px;height:17px;line-height:17px;color:#996600;letter-spacing:-0.234px;">0</div>
<div class="t " style="left:336px;top:390px;height:17px;line-height:17px;color:#006600;letter-spacing:-0.234px;">0</div>
<div class="t " style="left:368px;top:390px;height:17px;line-height:17px;color:#cc0000;letter-spacing:-0.234px;">27</div>
<div class="t " style="left:408px;top:390px;height:17px;line-height:17px;color:#006600;letter-spacing:-0.234px;">4</div>
<div class="t " style="left:440px;top:390px;height:17px;line-height:17px;color:#996600;letter-spacing:-0.297px;">(0)</div>
<div class="t " style="left:476px;top:390px;height:17px;line-height:17px;color:#996600;letter-spacing:-0.234px;">14</div>
<div class="t " style="left:512px;top:390px;height:17px;line-height:17px;color:#996600;letter-spacing:-0.297px;">(0)</div>
<div class="t " style="left:548px;top:390px;height:17px;line-height:17px;color:#006600;letter-spacing:-0.297px;">(0)</div>
<div class="t " style="left:584px;top:390px;height:17px;line-height:17px;color:#006600;letter-spacing:-0.297px;">(0)</div>
<div class="t " style="left:620px;top:390px;height:17px;line-height:17px;color:#996600;letter-spacing:-0.297px;">(0)</div>
<div class="t " style="left:656px;top:390px;height:17px;line-height:17px;color:#cc0000;letter-spacing:-0.297px;">(0)</div>
<div class="t " style="left:692px;top:390px;height:17px;line-height:17px;color:#006600;letter-spacing:-0.297px;">(0)</div>
<div class="t b" style="left:737px;top:390px;height:17px;line-height:17px;letter-spacing:-0.234px;">49</div>
<div class="t " style="left:817px;top:390px;height:17px;line-height:17px;color:#158466;letter-spacing:-0.234px;">82</div>
<div class="t b" style="left:39px;top:407px;height:17px;line-height:17px;letter-spacing:-0.234px;">11</div>
<div class="t " style="left:112px;top:407px;height:17px;line-height:17px;letter-spacing:-0.059px;">Hierl,Andreas</div>
<div class="t " style="left:228px;top:407px;height:17px;line-height:17px;color:#996600;letter-spacing:-0.234px;">9</div>
<div class="t " style="left:264px;top:407px;height:17px;line-height:17px;color:#006600;letter-spacing:-0.234px;">0</div>
<div class="t " style="left:296px;top:407px;height:17px;line-height:17px;color:#996600;letter-spacing:-0.297px;">(0)</div>
<div class="t " style="left:336px;top:407px;height:17px;line-height:17px;color:#006600;letter-spacing:-0.234px;">0</div>
<div class="t " style="left:372px;top:407px;height:17px;line-height:17px;color:#cc0000;letter-spacing:-0.234px;">0</div>
<div class="t " style="left:408px;top:407px;height:17px;line-height:17px;color:#006600;letter-spacing:-0.234px;">0</div>
<div class="t " style="left:440px;top:407px;height:17px;line-height:17px;color:#996600;letter-spacing:-0.234px;">12</div>
<div class="t " style="left:476px;top:407px;height:17px;line-height:17px;color:#996600;letter-spacing:-0.297px;">(0)</div>
<div class="t " style="left:512px;top:407px;height:17px;line-height:17px;color:#996600;letter-spacing:-0.234px;">18</div>
<div class="t " style="left:548px;top:407px;height:17px;line-height:17px;color:#006600;letter-spacing:-0.297px;">(0)</div>
<div class="t " style="left:584px;top:407px;height:17px;line-height:17px;color:#006600;letter-spacing:-0.297px;">(0)</div>
<div class="t " style="left:620px;top:407px;height:17px;line-height:17px;color:#996600;letter-spacing:-0.297px;">(0)</div>
<div class="t " style="left:656px;top:407px;height:17px;line-height:17px;color:#cc0000;letter-spacing:-0.297px;">(0)</div>
<div class="t " style="left:692px;top:407px;height:17px;line-height:17px;color:#006600;letter-spacing:-0.297px;">(0)</div>
<div class="t b" style="left:737px;top:407px;height:17px;line-height:17px;letter-spacing:-0.234px;">39</div>
<div class="t " style="left:817px;top:407px;height:17px;line-height:17px;color:#158466;letter-spacing:-0.234px;">90</div>
<div class="t b" style="left:39px;top:424px;height:17px;line-height:17px;letter-spacing:-0.234px;">12</div>
<div class="t " style="left:105px;top:424px;height:17px;line-height:17px;letter-spacing:-0.11px;">Reger,Christoph</div>
<div class="t " style="left:228px;top:424px;height:17px;line-height:17px;color:#996600;letter-spacing:-0.234px;">7</div>
<div class="t " style="left:264px;top:424px;height:17px;line-height:17px;color:#006600;letter-spacing:-0.234px;">0</div>
<div class="t " style="left:300px;top:424px;height:17px;line-height:17px;color:#996600;letter-spacing:-0.234px;">0</div>
<div class="t " style="left:336px;top:424px;height:17px;line-height:17px;color:#006600;letter-spacing:-0.234px;">0</div>
<div class="t " style="left:368px;top:424px;height:17px;line-height:17px;color:#cc0000;letter-spacing:-0.234px;">30</div>
<div class="t " style="left:408px;top:424px;height:17px;line-height:17px;color:#006600;letter-spacing:-0.234px;">0</div>
<div class="t " style="left:444px;top:424px;height:17px;line-height:17px;color:#996600;letter-spacing:-0.234px;">0</div>
<div class="t " style="left:476px;top:424px;height:17px;line-height:17px;color:#996600;letter-spacing:-0.297px;">(0)</div>
<div class="t " style="left:512px;top:424px;height:17px;line-height:17px;color:#996600;letter-spacing:-0.297px;">(0)</div>
<div class="t " style="left:548px;top:424px;height:17px;line-height:17px;color:#006600;letter-spacing:-0.297px;">(0)</div>
<div class="t " style="left:584px;top:424px;height:17px;line-height:17px;color:#006600;letter-spacing:-0.297px;">(0)</div>
<div class="t " style="left:620px;top:424px;height:17px;line-height:17px;color:#996600;letter-spacing:-0.297px;">(0)</div>
<div class="t " style="left:656px;top:424px;height:17px;line-height:17px;color:#cc0000;letter-spacing:-0.297px;">(0)</div>
<div class="t " style="left:692px;top:424px;height:17px;line-height:17px;color:#006600;letter-spacing:-0.297px;">(0)</div>
<div class="t b" style="left:737px;top:424px;height:17px;line-height:17px;letter-spacing:-0.234px;">37</div>
<div class="t " style="left:817px;top:424px;height:17px;line-height:17px;color:#158466;letter-spacing:-0.234px;">67</div>
<div class="t b" style="left:39px;top:441px;height:17px;line-height:17px;letter-spacing:-0.234px;">13</div>
<div class="t " style="left:100px;top:441px;height:17px;line-height:17px;letter-spacing:0.006px;">Kaufmann,Philipp</div>
<div class="t " style="left:224px;top:441px;height:17px;line-height:17px;color:#996600;letter-spacing:-0.297px;">(5)</div>
<div class="t " style="left:264px;top:441px;height:17px;line-height:17px;color:#006600;letter-spacing:-0.234px;">0</div>
<div class="t " style="left:296px;top:441px;height:17px;line-height:17px;color:#996600;letter-spacing:-0.234px;">11</div>
<div class="t " style="left:336px;top:441px;height:17px;line-height:17px;color:#006600;letter-spacing:-0.234px;">0</div>
<div class="t " style="left:372px;top:441px;height:17px;line-height:17px;color:#cc0000;letter-spacing:-0.234px;">0</div>
<div class="t " style="left:408px;top:441px;height:17px;line-height:17px;color:#006600;letter-spacing:-0.234px;">3</div>
<div class="t " style="left:440px;top:441px;height:17px;line-height:17px;color:#996600;letter-spacing:-0.297px;">(0)</div>
<div class="t " style="left:476px;top:441px;height:17px;line-height:17px;color:#996600;letter-spacing:-0.234px;">11</div>
<div class="t " style="left:512px;top:441px;height:17px;line-height:17px;color:#996600;letter-spacing:-0.234px;">12</div>
<div class="t " style="left:548px;top:441px;height:17px;line-height:17px;color:#006600;letter-spacing:-0.297px;">(0)</div>
<div class="t " style="left:584px;top:441px;height:17px;line-height:17px;color:#006600;letter-spacing:-0.297px;">(0)</div>
<div class="t " style="left:620px;top:441px;height:17px;line-height:17px;color:#996600;letter-spacing:-0.297px;">(0)</div>
<div class="t " style="left:656px;top:441px;height:17px;line-height:17px;color:#cc0000;letter-spacing:-0.297px;">(0)</div>
<div class="t " style="left:692px;top:441px;height:17px;line-height:17px;color:#006600;letter-spacing:-0.297px;">(0)</div>
<div class="t b" style="left:737px;top:441px;height:17px;line-height:17px;letter-spacing:-0.234px;">37</div>
<div class="t " style="left:817px;top:441px;height:17px;line-height:17px;color:#158466;letter-spacing:-0.234px;">86</div>
<div class="t " style="left:39px;top:458px;height:17px;line-height:17px;letter-spacing:-0.234px;">14</div>
<div class="t " style="left:114px;top:458px;height:17px;line-height:17px;letter-spacing:0.048px;">Malakov,Ihor</div>
<div class="t " style="left:224px;top:458px;height:17px;line-height:17px;color:#996600;letter-spacing:-0.234px;">10</div>
<div class="t " style="left:264px;top:458px;height:17px;line-height:17px;color:#006600;letter-spacing:-0.234px;">7</div>
<div class="t " style="left:296px;top:458px;height:17px;line-height:17px;color:#996600;letter-spacing:-0.234px;">15</div>
<div class="t " style="left:336px;top:458px;height:17px;line-height:17px;color:#006600;letter-spacing:-0.234px;">0</div>
<div class="t " style="left:372px;top:458px;height:17px;line-height:17px;color:#cc0000;letter-spacing:-0.234px;">0</div>
<div class="t " style="left:408px;top:458px;height:17px;line-height:17px;color:#006600;letter-spacing:-0.234px;">0</div>
<div class="t " style="left:444px;top:458px;height:17px;line-height:17px;color:#996600;letter-spacing:-0.234px;">0</div>
<div class="t " style="left:476px;top:458px;height:17px;line-height:17px;color:#996600;letter-spacing:-0.297px;">(0)</div>
<div class="t " style="left:512px;top:458px;height:17px;line-height:17px;color:#996600;letter-spacing:-0.297px;">(0)</div>
<div class="t " style="left:548px;top:458px;height:17px;line-height:17px;color:#006600;letter-spacing:-0.297px;">(0)</div>
<div class="t " style="left:584px;top:458px;height:17px;line-height:17px;color:#006600;letter-spacing:-0.297px;">(0)</div>
<div class="t " style="left:620px;top:458px;height:17px;line-height:17px;color:#996600;letter-spacing:-0.297px;">(0)</div>
<div class="t " style="left:656px;top:458px;height:17px;line-height:17px;color:#cc0000;letter-spacing:-0.297px;">(0)</div>
<div class="t " style="left:692px;top:458px;height:17px;line-height:17px;color:#006600;letter-spacing:-0.297px;">(0)</div>
<div class="t b" style="left:737px;top:458px;height:17px;line-height:17px;letter-spacing:-0.234px;">32</div>
<div class="t " style="left:817px;top:458px;height:17px;line-height:17px;color:#158466;letter-spacing:-0.234px;">92</div>
<div class="t " style="left:39px;top:475px;height:17px;line-height:17px;letter-spacing:-0.234px;">15</div>
<div class="t " style="left:92px;top:475px;height:17px;line-height:17px;letter-spacing:-0.067px;">Bauer, Laura Sophie</div>
<div class="t " style="left:228px;top:475px;height:17px;line-height:17px;color:#996600;letter-spacing:-0.234px;">0</div>
<div class="t " style="left:264px;top:475px;height:17px;line-height:17px;color:#006600;letter-spacing:-0.234px;">0</div>
<div class="t " style="left:300px;top:475px;height:17px;line-height:17px;color:#996600;letter-spacing:-0.234px;">0</div>
<div class="t " style="left:336px;top:475px;height:17px;line-height:17px;color:#006600;letter-spacing:-0.234px;">0</div>
<div class="t " style="left:368px;top:475px;height:17px;line-height:17px;color:#cc0000;letter-spacing:-0.234px;">30</div>
<div class="t " style="left:408px;top:475px;height:17px;line-height:17px;color:#006600;letter-spacing:-0.234px;">0</div>
<div class="t " style="left:444px;top:475px;height:17px;line-height:17px;color:#996600;letter-spacing:-0.234px;">0</div>
<div class="t " style="left:476px;top:475px;height:17px;line-height:17px;color:#996600;letter-spacing:-0.297px;">(0)</div>
<div class="t " style="left:512px;top:475px;height:17px;line-height:17px;color:#996600;letter-spacing:-0.297px;">(0)</div>
<div class="t " style="left:548px;top:475px;height:17px;line-height:17px;color:#006600;letter-spacing:-0.297px;">(0)</div>
<div class="t " style="left:584px;top:475px;height:17px;line-height:17px;color:#006600;letter-spacing:-0.297px;">(0)</div>
<div class="t " style="left:620px;top:475px;height:17px;line-height:17px;color:#996600;letter-spacing:-0.297px;">(0)</div>
<div class="t " style="left:656px;top:475px;height:17px;line-height:17px;color:#cc0000;letter-spacing:-0.297px;">(0)</div>
<div class="t " style="left:692px;top:475px;height:17px;line-height:17px;color:#006600;letter-spacing:-0.297px;">(0)</div>
<div class="t b" style="left:737px;top:475px;height:17px;line-height:17px;letter-spacing:-0.234px;">30</div>
<div class="t " style="left:817px;top:475px;height:17px;line-height:17px;color:#158466;letter-spacing:-0.234px;">60</div>
<div class="t " style="left:39px;top:492px;height:17px;line-height:17px;letter-spacing:-0.234px;">16</div>
<div class="t " style="left:118px;top:492px;height:17px;line-height:17px;letter-spacing:-0.02px;">Appl,Rudolf</div>
<div class="t " style="left:228px;top:492px;height:17px;line-height:17px;color:#996600;letter-spacing:-0.234px;">6</div>
<div class="t " style="left:264px;top:492px;height:17px;line-height:17px;color:#006600;letter-spacing:-0.234px;">0</div>
<div class="t " style="left:300px;top:492px;height:17px;line-height:17px;color:#996600;letter-spacing:-0.234px;">0</div>
<div class="t " style="left:336px;top:492px;height:17px;line-height:17px;color:#006600;letter-spacing:-0.234px;">0</div>
<div class="t " style="left:368px;top:492px;height:17px;line-height:17px;color:#cc0000;letter-spacing:-0.234px;">24</div>
<div class="t " style="left:408px;top:492px;height:17px;line-height:17px;color:#006600;letter-spacing:-0.234px;">0</div>
<div class="t " style="left:444px;top:492px;height:17px;line-height:17px;color:#996600;letter-spacing:-0.234px;">0</div>
<div class="t " style="left:476px;top:492px;height:17px;line-height:17px;color:#996600;letter-spacing:-0.297px;">(0)</div>
<div class="t " style="left:512px;top:492px;height:17px;line-height:17px;color:#996600;letter-spacing:-0.297px;">(0)</div>
<div class="t " style="left:548px;top:492px;height:17px;line-height:17px;color:#006600;letter-spacing:-0.297px;">(0)</div>
<div class="t " style="left:584px;top:492px;height:17px;line-height:17px;color:#006600;letter-spacing:-0.297px;">(0)</div>
<div class="t " style="left:620px;top:492px;height:17px;line-height:17px;color:#996600;letter-spacing:-0.297px;">(0)</div>
<div class="t " style="left:656px;top:492px;height:17px;line-height:17px;color:#cc0000;letter-spacing:-0.297px;">(0)</div>
<div class="t " style="left:692px;top:492px;height:17px;line-height:17px;color:#006600;letter-spacing:-0.297px;">(0)</div>
<div class="t b" style="left:737px;top:492px;height:17px;line-height:17px;letter-spacing:-0.234px;">30</div>
<div class="t " style="left:817px;top:492px;height:17px;line-height:17px;color:#158466;letter-spacing:-0.234px;">66</div>
<div class="t " style="left:39px;top:509px;height:17px;line-height:17px;letter-spacing:-0.234px;">17</div>
<div class="t " style="left:113px;top:509px;height:17px;line-height:17px;letter-spacing:-0.024px;">Rebler,Niklas</div>
<div class="t " style="left:228px;top:509px;height:17px;line-height:17px;color:#996600;letter-spacing:-0.234px;">0</div>
<div class="t " style="left:264px;top:509px;height:17px;line-height:17px;color:#006600;letter-spacing:-0.234px;">0</div>
<div class="t " style="left:296px;top:509px;height:17px;line-height:17px;color:#996600;letter-spacing:-0.297px;">(0)</div>
<div class="t " style="left:336px;top:509px;height:17px;line-height:17px;color:#006600;letter-spacing:-0.234px;">0</div>
<div class="t " style="left:372px;top:509px;height:17px;line-height:17px;color:#cc0000;letter-spacing:-0.234px;">0</div>
<div class="t " style="left:404px;top:509px;height:17px;line-height:17px;color:#006600;letter-spacing:-0.297px;">(0)</div>
<div class="t " style="left:444px;top:509px;height:17px;line-height:17px;color:#996600;letter-spacing:-0.234px;">9</div>
<div class="t " style="left:476px;top:509px;height:17px;line-height:17px;color:#996600;letter-spacing:-0.297px;">(0)</div>
<div class="t " style="left:512px;top:509px;height:17px;line-height:17px;color:#996600;letter-spacing:-0.234px;">15</div>
<div class="t " style="left:552px;top:509px;height:17px;line-height:17px;color:#006600;letter-spacing:-0.234px;">5</div>
<div class="t " style="left:584px;top:509px;height:17px;line-height:17px;color:#006600;letter-spacing:-0.297px;">(0)</div>
<div class="t " style="left:620px;top:509px;height:17px;line-height:17px;color:#996600;letter-spacing:-0.297px;">(0)</div>
<div class="t " style="left:656px;top:509px;height:17px;line-height:17px;color:#cc0000;letter-spacing:-0.297px;">(0)</div>
<div class="t " style="left:692px;top:509px;height:17px;line-height:17px;color:#006600;letter-spacing:-0.297px;">(0)</div>
<div class="t b" style="left:737px;top:509px;height:17px;line-height:17px;letter-spacing:-0.234px;">29</div>
<div class="t " style="left:817px;top:509px;height:17px;line-height:17px;color:#158466;letter-spacing:-0.234px;">89</div>
<div class="t " style="left:39px;top:526px;height:17px;line-height:17px;letter-spacing:-0.234px;">18</div>
<div class="t " style="left:103px;top:526px;height:17px;line-height:17px;letter-spacing:-0.134px;">Franke,Leonhard</div>
<div class="t " style="left:228px;top:526px;height:17px;line-height:17px;color:#996600;letter-spacing:-0.234px;">0</div>
<div class="t " style="left:264px;top:526px;height:17px;line-height:17px;color:#006600;letter-spacing:-0.234px;">0</div>
<div class="t " style="left:300px;top:526px;height:17px;line-height:17px;color:#996600;letter-spacing:-0.234px;">0</div>
<div class="t " style="left:336px;top:526px;height:17px;line-height:17px;color:#006600;letter-spacing:-0.234px;">0</div>
<div class="t " style="left:368px;top:526px;height:17px;line-height:17px;color:#cc0000;letter-spacing:-0.234px;">28</div>
<div class="t " style="left:408px;top:526px;height:17px;line-height:17px;color:#006600;letter-spacing:-0.234px;">0</div>
<div class="t " style="left:444px;top:526px;height:17px;line-height:17px;color:#996600;letter-spacing:-0.234px;">0</div>
<div class="t " style="left:476px;top:526px;height:17px;line-height:17px;color:#996600;letter-spacing:-0.297px;">(0)</div>
<div class="t " style="left:512px;top:526px;height:17px;line-height:17px;color:#996600;letter-spacing:-0.297px;">(0)</div>
<div class="t " style="left:548px;top:526px;height:17px;line-height:17px;color:#006600;letter-spacing:-0.297px;">(0)</div>
<div class="t " style="left:584px;top:526px;height:17px;line-height:17px;color:#006600;letter-spacing:-0.297px;">(0)</div>
<div class="t " style="left:620px;top:526px;height:17px;line-height:17px;color:#996600;letter-spacing:-0.297px;">(0)</div>
<div class="t " style="left:656px;top:526px;height:17px;line-height:17px;color:#cc0000;letter-spacing:-0.297px;">(0)</div>
<div class="t " style="left:692px;top:526px;height:17px;line-height:17px;color:#006600;letter-spacing:-0.297px;">(0)</div>
<div class="t b" style="left:737px;top:526px;height:17px;line-height:17px;letter-spacing:-0.234px;">28</div>
<div class="t " style="left:817px;top:526px;height:17px;line-height:17px;color:#158466;letter-spacing:-0.234px;">60</div>
<div class="t " style="left:39px;top:543px;height:17px;line-height:17px;letter-spacing:-0.234px;">19</div>
<div class="t " style="left:116px;top:543px;height:17px;line-height:17px;letter-spacing:-0.043px;">Großer, Karl</div>
<div class="t " style="left:228px;top:543px;height:17px;line-height:17px;color:#996600;letter-spacing:-0.234px;">0</div>
<div class="t " style="left:264px;top:543px;height:17px;line-height:17px;color:#006600;letter-spacing:-0.234px;">0</div>
<div class="t " style="left:300px;top:543px;height:17px;line-height:17px;color:#996600;letter-spacing:-0.234px;">0</div>
<div class="t " style="left:336px;top:543px;height:17px;line-height:17px;color:#006600;letter-spacing:-0.234px;">0</div>
<div class="t " style="left:368px;top:543px;height:17px;line-height:17px;color:#cc0000;letter-spacing:-0.234px;">27</div>
<div class="t " style="left:408px;top:543px;height:17px;line-height:17px;color:#006600;letter-spacing:-0.234px;">0</div>
<div class="t " style="left:444px;top:543px;height:17px;line-height:17px;color:#996600;letter-spacing:-0.234px;">0</div>
<div class="t " style="left:476px;top:543px;height:17px;line-height:17px;color:#996600;letter-spacing:-0.297px;">(0)</div>
<div class="t " style="left:512px;top:543px;height:17px;line-height:17px;color:#996600;letter-spacing:-0.297px;">(0)</div>
<div class="t " style="left:548px;top:543px;height:17px;line-height:17px;color:#006600;letter-spacing:-0.297px;">(0)</div>
<div class="t " style="left:584px;top:543px;height:17px;line-height:17px;color:#006600;letter-spacing:-0.297px;">(0)</div>
<div class="t " style="left:620px;top:543px;height:17px;line-height:17px;color:#996600;letter-spacing:-0.297px;">(0)</div>
<div class="t " style="left:656px;top:543px;height:17px;line-height:17px;color:#cc0000;letter-spacing:-0.297px;">(0)</div>
<div class="t " style="left:692px;top:543px;height:17px;line-height:17px;color:#006600;letter-spacing:-0.297px;">(0)</div>
<div class="t b" style="left:737px;top:543px;height:17px;line-height:17px;letter-spacing:-0.234px;">27</div>
<div class="t " style="left:817px;top:543px;height:17px;line-height:17px;color:#158466;letter-spacing:-0.234px;">60</div>
<div class="t " style="left:39px;top:560px;height:17px;line-height:17px;letter-spacing:-0.234px;">20</div>
<div class="t " style="left:112px;top:560px;height:17px;line-height:17px;letter-spacing:-0.038px;">Neppert, Paul</div>
<div class="t " style="left:228px;top:560px;height:17px;line-height:17px;color:#996600;letter-spacing:-0.234px;">0</div>
<div class="t " style="left:264px;top:560px;height:17px;line-height:17px;color:#006600;letter-spacing:-0.234px;">0</div>
<div class="t " style="left:300px;top:560px;height:17px;line-height:17px;color:#996600;letter-spacing:-0.234px;">0</div>
<div class="t " style="left:336px;top:560px;height:17px;line-height:17px;color:#006600;letter-spacing:-0.234px;">0</div>
<div class="t " style="left:368px;top:560px;height:17px;line-height:17px;color:#cc0000;letter-spacing:-0.234px;">26</div>
<div class="t " style="left:408px;top:560px;height:17px;line-height:17px;color:#006600;letter-spacing:-0.234px;">0</div>
<div class="t " style="left:444px;top:560px;height:17px;line-height:17px;color:#996600;letter-spacing:-0.234px;">0</div>
<div class="t " style="left:476px;top:560px;height:17px;line-height:17px;color:#996600;letter-spacing:-0.297px;">(0)</div>
<div class="t " style="left:512px;top:560px;height:17px;line-height:17px;color:#996600;letter-spacing:-0.297px;">(0)</div>
<div class="t " style="left:548px;top:560px;height:17px;line-height:17px;color:#006600;letter-spacing:-0.297px;">(0)</div>
<div class="t " style="left:584px;top:560px;height:17px;line-height:17px;color:#006600;letter-spacing:-0.297px;">(0)</div>
<div class="t " style="left:620px;top:560px;height:17px;line-height:17px;color:#996600;letter-spacing:-0.297px;">(0)</div>
<div class="t " style="left:656px;top:560px;height:17px;line-height:17px;color:#cc0000;letter-spacing:-0.297px;">(0)</div>
<div class="t " style="left:692px;top:560px;height:17px;line-height:17px;color:#006600;letter-spacing:-0.297px;">(0)</div>
<div class="t b" style="left:737px;top:560px;height:17px;line-height:17px;letter-spacing:-0.234px;">26</div>
<div class="t " style="left:817px;top:560px;height:17px;line-height:17px;color:#158466;letter-spacing:-0.234px;">60</div>
<div class="t " style="left:39px;top:577px;height:17px;line-height:17px;letter-spacing:-0.234px;">21</div>
<div class="t " style="left:117px;top:577px;height:17px;line-height:17px;letter-spacing:0.081px;">Götz,Timon</div>
<div class="t " style="left:224px;top:577px;height:17px;line-height:17px;color:#996600;letter-spacing:-0.234px;">13</div>
<div class="t " style="left:260px;top:577px;height:17px;line-height:17px;color:#006600;letter-spacing:-0.234px;">10</div>
<div class="t " style="left:300px;top:577px;height:17px;line-height:17px;color:#996600;letter-spacing:-0.234px;">0</div>
<div class="t " style="left:336px;top:577px;height:17px;line-height:17px;color:#006600;letter-spacing:-0.234px;">2</div>
<div class="t " style="left:372px;top:577px;height:17px;line-height:17px;color:#cc0000;letter-spacing:-0.234px;">0</div>
<div class="t " style="left:408px;top:577px;height:17px;line-height:17px;color:#006600;letter-spacing:-0.234px;">0</div>
<div class="t " style="left:444px;top:577px;height:17px;line-height:17px;color:#996600;letter-spacing:-0.234px;">0</div>
<div class="t " style="left:476px;top:577px;height:17px;line-height:17px;color:#996600;letter-spacing:-0.297px;">(0)</div>
<div class="t " style="left:512px;top:577px;height:17px;line-height:17px;color:#996600;letter-spacing:-0.297px;">(0)</div>
<div class="t " style="left:548px;top:577px;height:17px;line-height:17px;color:#006600;letter-spacing:-0.297px;">(0)</div>
<div class="t " style="left:584px;top:577px;height:17px;line-height:17px;color:#006600;letter-spacing:-0.297px;">(0)</div>
<div class="t " style="left:620px;top:577px;height:17px;line-height:17px;color:#996600;letter-spacing:-0.297px;">(0)</div>
<div class="t " style="left:656px;top:577px;height:17px;line-height:17px;color:#cc0000;letter-spacing:-0.297px;">(0)</div>
<div class="t " style="left:692px;top:577px;height:17px;line-height:17px;color:#006600;letter-spacing:-0.297px;">(0)</div>
<div class="t b" style="left:737px;top:577px;height:17px;line-height:17px;letter-spacing:-0.234px;">25</div>
<div class="t " style="left:817px;top:577px;height:17px;line-height:17px;color:#158466;letter-spacing:-0.234px;">85</div>
<div class="t " style="left:39px;top:594px;height:17px;line-height:17px;letter-spacing:-0.234px;">22</div>
<div class="t " style="left:108px;top:594px;height:17px;line-height:17px;letter-spacing:0.025px;">Hummel,Lukas</div>
<div class="t " style="left:228px;top:594px;height:17px;line-height:17px;color:#996600;letter-spacing:-0.234px;">0</div>
<div class="t " style="left:264px;top:594px;height:17px;line-height:17px;color:#006600;letter-spacing:-0.234px;">0</div>
<div class="t " style="left:296px;top:594px;height:17px;line-height:17px;color:#996600;letter-spacing:-0.234px;">10</div>
<div class="t " style="left:336px;top:594px;height:17px;line-height:17px;color:#006600;letter-spacing:-0.234px;">0</div>
<div class="t " style="left:372px;top:594px;height:17px;line-height:17px;color:#cc0000;letter-spacing:-0.234px;">0</div>
<div class="t " style="left:408px;top:594px;height:17px;line-height:17px;color:#006600;letter-spacing:-0.234px;">0</div>
<div class="t " style="left:440px;top:594px;height:17px;line-height:17px;color:#996600;letter-spacing:-0.297px;">(0)</div>
<div class="t " style="left:476px;top:594px;height:17px;line-height:17px;color:#996600;letter-spacing:-0.297px;">(0)</div>
<div class="t " style="left:512px;top:594px;height:17px;line-height:17px;color:#996600;letter-spacing:-0.234px;">11</div>
<div class="t " style="left:548px;top:594px;height:17px;line-height:17px;color:#006600;letter-spacing:-0.297px;">(0)</div>
<div class="t " style="left:584px;top:594px;height:17px;line-height:17px;color:#006600;letter-spacing:-0.297px;">(0)</div>
<div class="t " style="left:620px;top:594px;height:17px;line-height:17px;color:#996600;letter-spacing:-0.297px;">(0)</div>
<div class="t " style="left:656px;top:594px;height:17px;line-height:17px;color:#cc0000;letter-spacing:-0.297px;">(0)</div>
<div class="t " style="left:692px;top:594px;height:17px;line-height:17px;color:#006600;letter-spacing:-0.297px;">(0)</div>
<div class="t b" style="left:737px;top:594px;height:17px;line-height:17px;letter-spacing:-0.234px;">21</div>
<div class="t " style="left:817px;top:594px;height:17px;line-height:17px;color:#158466;letter-spacing:-0.234px;">81</div>
<div class="t " style="left:39px;top:611px;height:17px;line-height:17px;letter-spacing:-0.234px;">23</div>
<div class="t " style="left:114px;top:611px;height:17px;line-height:17px;letter-spacing:0.158px;">Beesk,Kevin</div>
<div class="t " style="left:224px;top:611px;height:17px;line-height:17px;color:#996600;letter-spacing:-0.234px;">19</div>
<div class="t " style="left:264px;top:611px;height:17px;line-height:17px;color:#006600;letter-spacing:-0.234px;">0</div>
<div class="t " style="left:300px;top:611px;height:17px;line-height:17px;color:#996600;letter-spacing:-0.234px;">0</div>
<div class="t " style="left:336px;top:611px;height:17px;line-height:17px;color:#006600;letter-spacing:-0.234px;">0</div>
<div class="t " style="left:372px;top:611px;height:17px;line-height:17px;color:#cc0000;letter-spacing:-0.234px;">0</div>
<div class="t " style="left:408px;top:611px;height:17px;line-height:17px;color:#006600;letter-spacing:-0.234px;">0</div>
<div class="t " style="left:444px;top:611px;height:17px;line-height:17px;color:#996600;letter-spacing:-0.234px;">0</div>
<div class="t " style="left:476px;top:611px;height:17px;line-height:17px;color:#996600;letter-spacing:-0.297px;">(0)</div>
<div class="t " style="left:512px;top:611px;height:17px;line-height:17px;color:#996600;letter-spacing:-0.297px;">(0)</div>
<div class="t " style="left:548px;top:611px;height:17px;line-height:17px;color:#006600;letter-spacing:-0.297px;">(0)</div>
<div class="t " style="left:584px;top:611px;height:17px;line-height:17px;color:#006600;letter-spacing:-0.297px;">(0)</div>
<div class="t " style="left:620px;top:611px;height:17px;line-height:17px;color:#996600;letter-spacing:-0.297px;">(0)</div>
<div class="t " style="left:656px;top:611px;height:17px;line-height:17px;color:#cc0000;letter-spacing:-0.297px;">(0)</div>
<div class="t " style="left:692px;top:611px;height:17px;line-height:17px;color:#006600;letter-spacing:-0.297px;">(0)</div>
<div class="t b" style="left:737px;top:611px;height:17px;line-height:17px;letter-spacing:-0.234px;">19</div>
<div class="t " style="left:817px;top:611px;height:17px;line-height:17px;color:#158466;letter-spacing:-0.234px;">79</div>
<div class="t " style="left:39px;top:628px;height:17px;line-height:17px;letter-spacing:-0.234px;">24</div>
<div class="t " style="left:108px;top:628px;height:17px;line-height:17px;letter-spacing:0.051px;">Schilay,Lorenz</div>
<div class="t " style="left:224px;top:628px;height:17px;line-height:17px;color:#996600;letter-spacing:-0.234px;">18</div>
<div class="t " style="left:264px;top:628px;height:17px;line-height:17px;color:#006600;letter-spacing:-0.234px;">0</div>
<div class="t " style="left:300px;top:628px;height:17px;line-height:17px;color:#996600;letter-spacing:-0.234px;">0</div>
<div class="t " style="left:336px;top:628px;height:17px;line-height:17px;color:#006600;letter-spacing:-0.234px;">0</div>
<div class="t " style="left:372px;top:628px;height:17px;line-height:17px;color:#cc0000;letter-spacing:-0.234px;">0</div>
<div class="t " style="left:408px;top:628px;height:17px;line-height:17px;color:#006600;letter-spacing:-0.234px;">0</div>
<div class="t " style="left:444px;top:628px;height:17px;line-height:17px;color:#996600;letter-spacing:-0.234px;">0</div>
<div class="t " style="left:476px;top:628px;height:17px;line-height:17px;color:#996600;letter-spacing:-0.297px;">(0)</div>
<div class="t " style="left:512px;top:628px;height:17px;line-height:17px;color:#996600;letter-spacing:-0.297px;">(0)</div>
<div class="t " style="left:548px;top:628px;height:17px;line-height:17px;color:#006600;letter-spacing:-0.297px;">(0)</div>
<div class="t " style="left:584px;top:628px;height:17px;line-height:17px;color:#006600;letter-spacing:-0.297px;">(0)</div>
<div class="t " style="left:620px;top:628px;height:17px;line-height:17px;color:#996600;letter-spacing:-0.297px;">(0)</div>
<div class="t " style="left:656px;top:628px;height:17px;line-height:17px;color:#cc0000;letter-spacing:-0.297px;">(0)</div>
<div class="t " style="left:692px;top:628px;height:17px;line-height:17px;color:#006600;letter-spacing:-0.297px;">(0)</div>
<div class="t b" style="left:737px;top:628px;height:17px;line-height:17px;letter-spacing:-0.234px;">18</div>
<div class="t " style="left:817px;top:628px;height:17px;line-height:17px;color:#158466;letter-spacing:-0.234px;">78</div>
<div class="t " style="left:39px;top:645px;height:17px;line-height:17px;letter-spacing:-0.234px;">25</div>
<div class="t " style="left:104px;top:645px;height:17px;line-height:17px;letter-spacing:0.004px;">Junker,Christian</div>
<div class="t " style="left:224px;top:645px;height:17px;line-height:17px;color:#996600;letter-spacing:-0.234px;">15</div>
<div class="t " style="left:264px;top:645px;height:17px;line-height:17px;color:#006600;letter-spacing:-0.234px;">0</div>
<div class="t " style="left:300px;top:645px;height:17px;line-height:17px;color:#996600;letter-spacing:-0.234px;">0</div>
<div class="t " style="left:336px;top:645px;height:17px;line-height:17px;color:#006600;letter-spacing:-0.234px;">1</div>
<div class="t " style="left:372px;top:645px;height:17px;line-height:17px;color:#cc0000;letter-spacing:-0.234px;">0</div>
<div class="t " style="left:408px;top:645px;height:17px;line-height:17px;color:#006600;letter-spacing:-0.234px;">0</div>
<div class="t " style="left:444px;top:645px;height:17px;line-height:17px;color:#996600;letter-spacing:-0.234px;">0</div>
<div class="t " style="left:476px;top:645px;height:17px;line-height:17px;color:#996600;letter-spacing:-0.297px;">(0)</div>
<div class="t " style="left:512px;top:645px;height:17px;line-height:17px;color:#996600;letter-spacing:-0.297px;">(0)</div>
<div class="t " style="left:548px;top:645px;height:17px;line-height:17px;color:#006600;letter-spacing:-0.297px;">(0)</div>
<div class="t " style="left:584px;top:645px;height:17px;line-height:17px;color:#006600;letter-spacing:-0.297px;">(0)</div>
<div class="t " style="left:620px;top:645px;height:17px;line-height:17px;color:#996600;letter-spacing:-0.297px;">(0)</div>
<div class="t " style="left:656px;top:645px;height:17px;line-height:17px;color:#cc0000;letter-spacing:-0.297px;">(0)</div>
<div class="t " style="left:692px;top:645px;height:17px;line-height:17px;color:#006600;letter-spacing:-0.297px;">(0)</div>
<div class="t b" style="left:737px;top:645px;height:17px;line-height:17px;letter-spacing:-0.234px;">16</div>
<div class="t " style="left:817px;top:645px;height:17px;line-height:17px;color:#158466;letter-spacing:-0.234px;">76</div>
<div class="t " style="left:39px;top:662px;height:17px;line-height:17px;letter-spacing:-0.234px;">26</div>
<div class="t " style="left:123px;top:662px;height:17px;line-height:17px;letter-spacing:0.098px;">Kheiri, Ali</div>
<div class="t " style="left:228px;top:662px;height:17px;line-height:17px;color:#996600;letter-spacing:-0.234px;">0</div>
<div class="t " style="left:264px;top:662px;height:17px;line-height:17px;color:#006600;letter-spacing:-0.234px;">0</div>
<div class="t " style="left:300px;top:662px;height:17px;line-height:17px;color:#996600;letter-spacing:-0.234px;">0</div>
<div class="t " style="left:336px;top:662px;height:17px;line-height:17px;color:#006600;letter-spacing:-0.234px;">0</div>
<div class="t " style="left:372px;top:662px;height:17px;line-height:17px;color:#cc0000;letter-spacing:-0.234px;">0</div>
<div class="t " style="left:408px;top:662px;height:17px;line-height:17px;color:#006600;letter-spacing:-0.234px;">0</div>
<div class="t " style="left:440px;top:662px;height:17px;line-height:17px;color:#996600;letter-spacing:-0.234px;">14</div>
<div class="t " style="left:476px;top:662px;height:17px;line-height:17px;color:#996600;letter-spacing:-0.297px;">(0)</div>
<div class="t " style="left:512px;top:662px;height:17px;line-height:17px;color:#996600;letter-spacing:-0.297px;">(0)</div>
<div class="t " style="left:548px;top:662px;height:17px;line-height:17px;color:#006600;letter-spacing:-0.297px;">(0)</div>
<div class="t " style="left:584px;top:662px;height:17px;line-height:17px;color:#006600;letter-spacing:-0.297px;">(0)</div>
<div class="t " style="left:620px;top:662px;height:17px;line-height:17px;color:#996600;letter-spacing:-0.297px;">(0)</div>
<div class="t " style="left:656px;top:662px;height:17px;line-height:17px;color:#cc0000;letter-spacing:-0.297px;">(0)</div>
<div class="t " style="left:692px;top:662px;height:17px;line-height:17px;color:#006600;letter-spacing:-0.297px;">(0)</div>
<div class="t b" style="left:737px;top:662px;height:17px;line-height:17px;letter-spacing:-0.234px;">14</div>
<div class="t " style="left:817px;top:662px;height:17px;line-height:17px;color:#158466;letter-spacing:-0.234px;">74</div>
<div class="t " style="left:39px;top:679px;height:17px;line-height:17px;letter-spacing:-0.234px;">27</div>
<div class="t " style="left:105px;top:679px;height:17px;line-height:17px;letter-spacing:0.054px;">Malakov,Yefgen</div>
<div class="t " style="left:228px;top:679px;height:17px;line-height:17px;color:#996600;letter-spacing:-0.234px;">0</div>
<div class="t " style="left:264px;top:679px;height:17px;line-height:17px;color:#006600;letter-spacing:-0.234px;">0</div>
<div class="t " style="left:296px;top:679px;height:17px;line-height:17px;color:#996600;letter-spacing:-0.234px;">12</div>
<div class="t " style="left:336px;top:679px;height:17px;line-height:17px;color:#006600;letter-spacing:-0.234px;">0</div>
<div class="t " style="left:372px;top:679px;height:17px;line-height:17px;color:#cc0000;letter-spacing:-0.234px;">0</div>
<div class="t " style="left:408px;top:679px;height:17px;line-height:17px;color:#006600;letter-spacing:-0.234px;">0</div>
<div class="t " style="left:444px;top:679px;height:17px;line-height:17px;color:#996600;letter-spacing:-0.234px;">0</div>
<div class="t " style="left:476px;top:679px;height:17px;line-height:17px;color:#996600;letter-spacing:-0.297px;">(0)</div>
<div class="t " style="left:512px;top:679px;height:17px;line-height:17px;color:#996600;letter-spacing:-0.297px;">(0)</div>
<div class="t " style="left:548px;top:679px;height:17px;line-height:17px;color:#006600;letter-spacing:-0.297px;">(0)</div>
<div class="t " style="left:584px;top:679px;height:17px;line-height:17px;color:#006600;letter-spacing:-0.297px;">(0)</div>
<div class="t " style="left:620px;top:679px;height:17px;line-height:17px;color:#996600;letter-spacing:-0.297px;">(0)</div>
<div class="t " style="left:656px;top:679px;height:17px;line-height:17px;color:#cc0000;letter-spacing:-0.297px;">(0)</div>
<div class="t " style="left:692px;top:679px;height:17px;line-height:17px;color:#006600;letter-spacing:-0.297px;">(0)</div>
<div class="t b" style="left:737px;top:679px;height:17px;line-height:17px;letter-spacing:-0.234px;">12</div>
<div class="t " style="left:817px;top:679px;height:17px;line-height:17px;color:#158466;letter-spacing:-0.234px;">72</div>
<div class="t " style="left:39px;top:696px;height:17px;line-height:17px;letter-spacing:-0.234px;">28</div>
<div class="t " style="left:114px;top:696px;height:17px;line-height:17px;letter-spacing:-0.096px;">Sellger,Noah</div>
<div class="t " style="left:228px;top:696px;height:17px;line-height:17px;color:#996600;letter-spacing:-0.234px;">0</div>
<div class="t " style="left:264px;top:696px;height:17px;line-height:17px;color:#006600;letter-spacing:-0.234px;">0</div>
<div class="t " style="left:300px;top:696px;height:17px;line-height:17px;color:#996600;letter-spacing:-0.234px;">0</div>
<div class="t " style="left:332px;top:696px;height:17px;line-height:17px;color:#006600;letter-spacing:-0.297px;">(0)</div>
<div class="t " style="left:372px;top:696px;height:17px;line-height:17px;color:#cc0000;letter-spacing:-0.234px;">0</div>
<div class="t " style="left:404px;top:696px;height:17px;line-height:17px;color:#006600;letter-spacing:-0.297px;">(0)</div>
<div class="t " style="left:444px;top:696px;height:17px;line-height:17px;color:#996600;letter-spacing:-0.234px;">0</div>
<div class="t " style="left:476px;top:696px;height:17px;line-height:17px;color:#996600;letter-spacing:-0.297px;">(0)</div>
<div class="t " style="left:512px;top:696px;height:17px;line-height:17px;color:#996600;letter-spacing:-0.297px;">(0)</div>
<div class="t " style="left:552px;top:696px;height:17px;line-height:17px;color:#006600;letter-spacing:-0.234px;">4</div>
<div class="t " style="left:588px;top:696px;height:17px;line-height:17px;color:#006600;letter-spacing:-0.234px;">5</div>
<div class="t " style="left:620px;top:696px;height:17px;line-height:17px;color:#996600;letter-spacing:-0.297px;">(0)</div>
<div class="t " style="left:656px;top:696px;height:17px;line-height:17px;color:#cc0000;letter-spacing:-0.297px;">(0)</div>
<div class="t " style="left:692px;top:696px;height:17px;line-height:17px;color:#006600;letter-spacing:-0.297px;">(0)</div>
<div class="t b" style="left:741px;top:696px;height:17px;line-height:17px;letter-spacing:-0.234px;">9</div>
<div class="t " style="left:817px;top:696px;height:17px;line-height:17px;color:#158466;letter-spacing:-0.234px;">69</div>
<div class="t " style="left:39px;top:713px;height:17px;line-height:17px;letter-spacing:-0.234px;">29</div>
<div class="t " style="left:101px;top:713px;height:17px;line-height:17px;letter-spacing:0.062px;">Malakova, Polina</div>
<div class="t " style="left:228px;top:713px;height:17px;line-height:17px;color:#996600;letter-spacing:-0.234px;">0</div>
<div class="t " style="left:264px;top:713px;height:17px;line-height:17px;color:#006600;letter-spacing:-0.234px;">0</div>
<div class="t " style="left:300px;top:713px;height:17px;line-height:17px;color:#996600;letter-spacing:-0.234px;">9</div>
<div class="t " style="left:336px;top:713px;height:17px;line-height:17px;color:#006600;letter-spacing:-0.234px;">0</div>
<div class="t " style="left:372px;top:713px;height:17px;line-height:17px;color:#cc0000;letter-spacing:-0.234px;">0</div>
<div class="t " style="left:408px;top:713px;height:17px;line-height:17px;color:#006600;letter-spacing:-0.234px;">0</div>
<div class="t " style="left:444px;top:713px;height:17px;line-height:17px;color:#996600;letter-spacing:-0.234px;">0</div>
<div class="t " style="left:476px;top:713px;height:17px;line-height:17px;color:#996600;letter-spacing:-0.297px;">(0)</div>
<div class="t " style="left:512px;top:713px;height:17px;line-height:17px;color:#996600;letter-spacing:-0.297px;">(0)</div>
<div class="t " style="left:548px;top:713px;height:17px;line-height:17px;color:#006600;letter-spacing:-0.297px;">(0)</div>
<div class="t " style="left:584px;top:713px;height:17px;line-height:17px;color:#006600;letter-spacing:-0.297px;">(0)</div>
<div class="t " style="left:620px;top:713px;height:17px;line-height:17px;color:#996600;letter-spacing:-0.297px;">(0)</div>
<div class="t " style="left:656px;top:713px;height:17px;line-height:17px;color:#cc0000;letter-spacing:-0.297px;">(0)</div>
<div class="t " style="left:692px;top:713px;height:17px;line-height:17px;color:#006600;letter-spacing:-0.297px;">(0)</div>
<div class="t b" style="left:741px;top:713px;height:17px;line-height:17px;letter-spacing:-0.234px;">9</div>
<div class="t " style="left:817px;top:713px;height:17px;line-height:17px;color:#158466;letter-spacing:-0.234px;">69</div>
<div class="t " style="left:39px;top:730px;height:17px;line-height:17px;letter-spacing:-0.234px;">30</div>
<div class="t " style="left:99px;top:730px;height:17px;line-height:17px;letter-spacing:-0.005px;">Göhrke,Sebastian</div>
<div class="t " style="left:228px;top:730px;height:17px;line-height:17px;color:#996600;letter-spacing:-0.234px;">8</div>
<div class="t " style="left:264px;top:730px;height:17px;line-height:17px;color:#006600;letter-spacing:-0.234px;">0</div>
<div class="t " style="left:300px;top:730px;height:17px;line-height:17px;color:#996600;letter-spacing:-0.234px;">0</div>
<div class="t " style="left:336px;top:730px;height:17px;line-height:17px;color:#006600;letter-spacing:-0.234px;">0</div>
<div class="t " style="left:372px;top:730px;height:17px;line-height:17px;color:#cc0000;letter-spacing:-0.234px;">0</div>
<div class="t " style="left:408px;top:730px;height:17px;line-height:17px;color:#006600;letter-spacing:-0.234px;">0</div>
<div class="t " style="left:444px;top:730px;height:17px;line-height:17px;color:#996600;letter-spacing:-0.234px;">0</div>
<div class="t " style="left:476px;top:730px;height:17px;line-height:17px;color:#996600;letter-spacing:-0.297px;">(0)</div>
<div class="t " style="left:512px;top:730px;height:17px;line-height:17px;color:#996600;letter-spacing:-0.297px;">(0)</div>
<div class="t " style="left:548px;top:730px;height:17px;line-height:17px;color:#006600;letter-spacing:-0.297px;">(0)</div>
<div class="t " style="left:584px;top:730px;height:17px;line-height:17px;color:#006600;letter-spacing:-0.297px;">(0)</div>
<div class="t " style="left:620px;top:730px;height:17px;line-height:17px;color:#996600;letter-spacing:-0.297px;">(0)</div>
<div class="t " style="left:656px;top:730px;height:17px;line-height:17px;color:#cc0000;letter-spacing:-0.297px;">(0)</div>
<div class="t " style="left:692px;top:730px;height:17px;line-height:17px;color:#006600;letter-spacing:-0.297px;">(0)</div>
<div class="t b" style="left:741px;top:730px;height:17px;line-height:17px;letter-spacing:-0.234px;">8</div>
<div class="t " style="left:817px;top:730px;height:17px;line-height:17px;color:#158466;letter-spacing:-0.234px;">68</div>
<div class="t " style="left:39px;top:747px;height:17px;line-height:17px;letter-spacing:-0.234px;">31</div>
<div class="t " style="left:111px;top:747px;height:17px;line-height:17px;letter-spacing:-0.052px;">Spangler,Paul</div>
<div class="t " style="left:228px;top:747px;height:17px;line-height:17px;letter-spacing:-0.234px;">4</div>
<div class="t " style="left:264px;top:747px;height:17px;line-height:17px;letter-spacing:-0.234px;">0</div>
<div class="t " style="left:300px;top:747px;height:17px;line-height:17px;letter-spacing:-0.234px;">0</div>
<div class="t l" style="left:323px;top:747px;width:36px;height:17px;line-height:17px;letter-spacing:-0.234px;">0</div>
<div class="t l" style="left:359px;top:747px;width:36px;height:17px;line-height:17px;letter-spacing:-0.234px;">0</div>
<div class="t l" style="left:395px;top:747px;width:36px;height:17px;line-height:17px;letter-spacing:-0.234px;">0</div>
<div class="t l" style="left:431px;top:747px;width:36px;height:17px;line-height:17px;letter-spacing:-0.234px;">0</div>
<div class="t l" style="left:467px;top:747px;width:36px;height:17px;line-height:17px;letter-spacing:-0.297px;">(0)</div>
<div class="t l" style="left:503px;top:747px;width:36px;height:17px;line-height:17px;letter-spacing:-0.297px;">(0)</div>
<div class="t l" style="left:539px;top:747px;width:36px;height:17px;line-height:17px;letter-spacing:-0.297px;">(0)</div>
<div class="t l" style="left:575px;top:747px;width:36px;height:17px;line-height:17px;letter-spacing:-0.297px;">(0)</div>
<div class="t l" style="left:611px;top:747px;width:36px;height:17px;line-height:17px;letter-spacing:-0.297px;">(0)</div>
<div class="t l" style="left:647px;top:747px;width:36px;height:17px;line-height:17px;letter-spacing:-0.297px;">(0)</div>
<div class="t l" style="left:683px;top:747px;width:36px;height:17px;line-height:17px;letter-spacing:-0.297px;">(0)</div>
<div class="t b rt" style="left:717px;top:747px;width:53px;height:17px;line-height:17px;letter-spacing:-0.234px;">4</div>
<div class="t " style="left:817px;top:747px;height:17px;line-height:17px;color:#158466;letter-spacing:-0.234px;">64</div>
</body></html>
